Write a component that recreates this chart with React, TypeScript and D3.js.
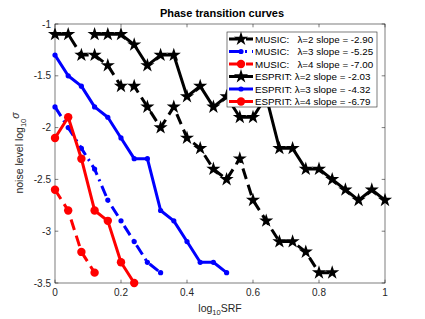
import React from "react";
import * as d3 from "d3";

// srf grid (log10 SRF) shared by all curves
const srf = [0, 0.04, 0.08, 0.12, 0.16, 0.2, 0.24, 0.28, 0.32, 0.36, 0.4, 0.44, 0.48, 0.52, 0.56, 0.6, 0.64, 0.68, 0.72, 0.76, 0.8, 0.84, 0.88, 0.92, 0.96, 1];

const musicL2 = [-1.1, -1.1, -1.3, -1.3, -1.4, -1.6, -1.6, -1.8, -2.0, -1.8, -2.1, -2.2, -2.4, -2.5, -2.3, -2.7, -2.9, -3.1, -3.1, -3.2, -3.4, -3.4];
const musicL3 = [-1.8, -2.0, -2.2, -2.4, -2.7, -2.9, -3.1, -3.3, -3.4];
const musicL4 = [-2.6, -2.8, -3.2, -3.4];
// ESPRIT lambda=2 starts at srf index 3
const espritL2 = [-1.1, -1.1, -1.1, -1.2, -1.4, -1.3, -1.3, -1.7, -1.6, -1.8, -1.7, -1.9, -1.9, -1.7, -2.2, -2.2, -2.4, -2.4, -2.5, -2.6, -2.7, -2.6, -2.7];
const espritL3 = [-1.3, -1.5, -1.6, -1.8, -1.9, -2.1, -2.3, -2.3, -2.8, -2.9, -3.1, -3.3, -3.3, -3.4];
const espritL4 = [-2.1, -1.9, -2.3, -2.8, -2.9, -3.3, -3.5];

const legendLabels = [
  "MUSIC:   \u03bb=2 slope = -2.90",
  "MUSIC:   \u03bb=3 slope = -5.25",
  "MUSIC:   \u03bb=4 slope = -7.00",
  "ESPRIT: \u03bb=2 slope = -2.03",
  "ESPRIT: \u03bb=3 slope = -4.32",
  "ESPRIT: \u03bb=4 slope = -6.79",
];
const xTicks = [0, 0.2, 0.4, 0.6, 0.8, 1];
const yTicks = [-1, -1.5, -2, -2.5, -3, -3.5];

type Series = {
  vals: number[];
  start: number;
  color: string;
  dash: string | null;
  marker: "star" | "dot" | "circle";
};

const series: Series[] = [
  { vals: musicL2, start: 0, color: "#000", dash: "11,6", marker: "star" },
  { vals: musicL3, start: 0, color: "#0000ff", dash: "11,5,2,5", marker: "dot" },
  { vals: musicL4, start: 0, color: "#ff0000", dash: "11,6", marker: "circle" },
  { vals: espritL2, start: 3, color: "#000", dash: null, marker: "star" },
  { vals: espritL3, start: 0, color: "#0000ff", dash: null, marker: "dot" },
  { vals: espritL4, start: 0, color: "#ff0000", dash: null, marker: "circle" },
];

const W = 425, H = 319;
const left = 55, right = 385, top = 24, bottom = 283;
const font = "'Liberation Sans', Arial, Helvetica, sans-serif";
const axisColor = "#262626";

const x = d3.scaleLinear().domain([0, 1]).range([left, right]);
const y = d3.scaleLinear().domain([-3.5, -1]).range([bottom, top]);
const starPath = d3.symbol(d3.symbolStar, 62)()!;

function Marker({ m, cx, cy, color }: { m: Series["marker"]; cx: number; cy: number; color: string }) {
  if (m === "star") return <path d={starPath} transform={`translate(${cx},${cy})`} fill={color} />;
  if (m === "dot") return <circle cx={cx} cy={cy} r={2.6} fill={color} />;
  return <circle cx={cx} cy={cy} r={4.2} fill={color} />;
}

export default function App() {
  const line = d3.line<[number, number]>().x(d => x(d[0])).y(d => y(d[1]));
  const lgX = 227, lgY = 32, lgW = 150, lgH = 75, rowH = 12.5;

  return (
    <svg width={W} height={H} style={{ position: "absolute", left: 0, top: 0, background: "#fff" }}>
      <text x={222} y={17} textAnchor="middle" fontFamily={font} fontWeight="bold" fontSize={11}>Phase transition curves</text>

      {/* axes box */}
      <rect x={left} y={top} width={right - left} height={bottom - top} fill="none" stroke={axisColor} strokeWidth={0.6} />
      {xTicks.map(t => (
        <g key={"x" + t}>
          <line x1={x(t)} x2={x(t)} y1={bottom} y2={bottom - 3.3} stroke={axisColor} strokeWidth={0.6} />
          <line x1={x(t)} x2={x(t)} y1={top} y2={top + 3.3} stroke={axisColor} strokeWidth={0.6} />
          <text x={x(t)} y={bottom + 13} textAnchor="middle" fontFamily={font} fontSize={10} fill={axisColor}>{t}</text>
        </g>
      ))}
      {yTicks.map(t => (
        <g key={"y" + t}>
          <line x1={left} x2={left + 3.3} y1={y(t)} y2={y(t)} stroke={axisColor} strokeWidth={0.6} />
          <line x1={right} x2={right - 3.3} y1={y(t)} y2={y(t)} stroke={axisColor} strokeWidth={0.6} />
          <text x={left - 4} y={y(t) + 3.5} textAnchor="end" fontFamily={font} fontSize={10} fill={axisColor}>{t}</text>
        </g>
      ))}
      <text x={220} y={312} textAnchor="middle" fontFamily={font} fontSize={10.5} fill={axisColor}>
        log<tspan fontSize={7.5} dy={3}>10</tspan><tspan dy={-3}>SRF</tspan>
      </text>
      <text transform={`translate(23,153) rotate(-90)`} textAnchor="middle" fontFamily={font} fontSize={10.5} fill={axisColor}>
        noise level log<tspan fontSize={7.5} dy={3}>10</tspan><tspan dy={-7} fontStyle="italic">{"\u03c3"}</tspan>
      </text>

      {series.map((s, i) => {
        const pts: [number, number][] = s.vals.map((v, k) => [srf[s.start + k], v]);
        return (
          <g key={i}>
            <path d={line(pts)!} fill="none" stroke={s.color} strokeWidth={3} strokeDasharray={s.dash ?? undefined} strokeLinejoin="round" />
            {pts.map((p, k) => <Marker key={k} m={s.marker} cx={x(p[0])} cy={y(p[1])} color={s.color} />)}
          </g>
        );
      })}

      {/* legend */}
      <rect x={lgX} y={lgY} width={lgW} height={lgH} fill="#fff" stroke="#262626" strokeWidth={0.6} />
      {series.map((s, i) => {
        const cy = lgY + 7 + i * rowH;
        return (
          <g key={"lg" + i}>
            <line x1={lgX + 2} x2={lgX + 26} y1={cy} y2={cy} stroke={s.color} strokeWidth={3} strokeDasharray={s.dash ?? undefined} />
            <Marker m={s.marker} cx={lgX + 14} cy={cy} color={s.color} />
            <text x={lgX + 28} y={cy + 3.5} fontFamily={font} fontSize={9.8} fill="#000" style={{ whiteSpace: "pre" }}>{legendLabels[i]}</text>
          </g>
        );
      })}
    </svg>
  );
}
